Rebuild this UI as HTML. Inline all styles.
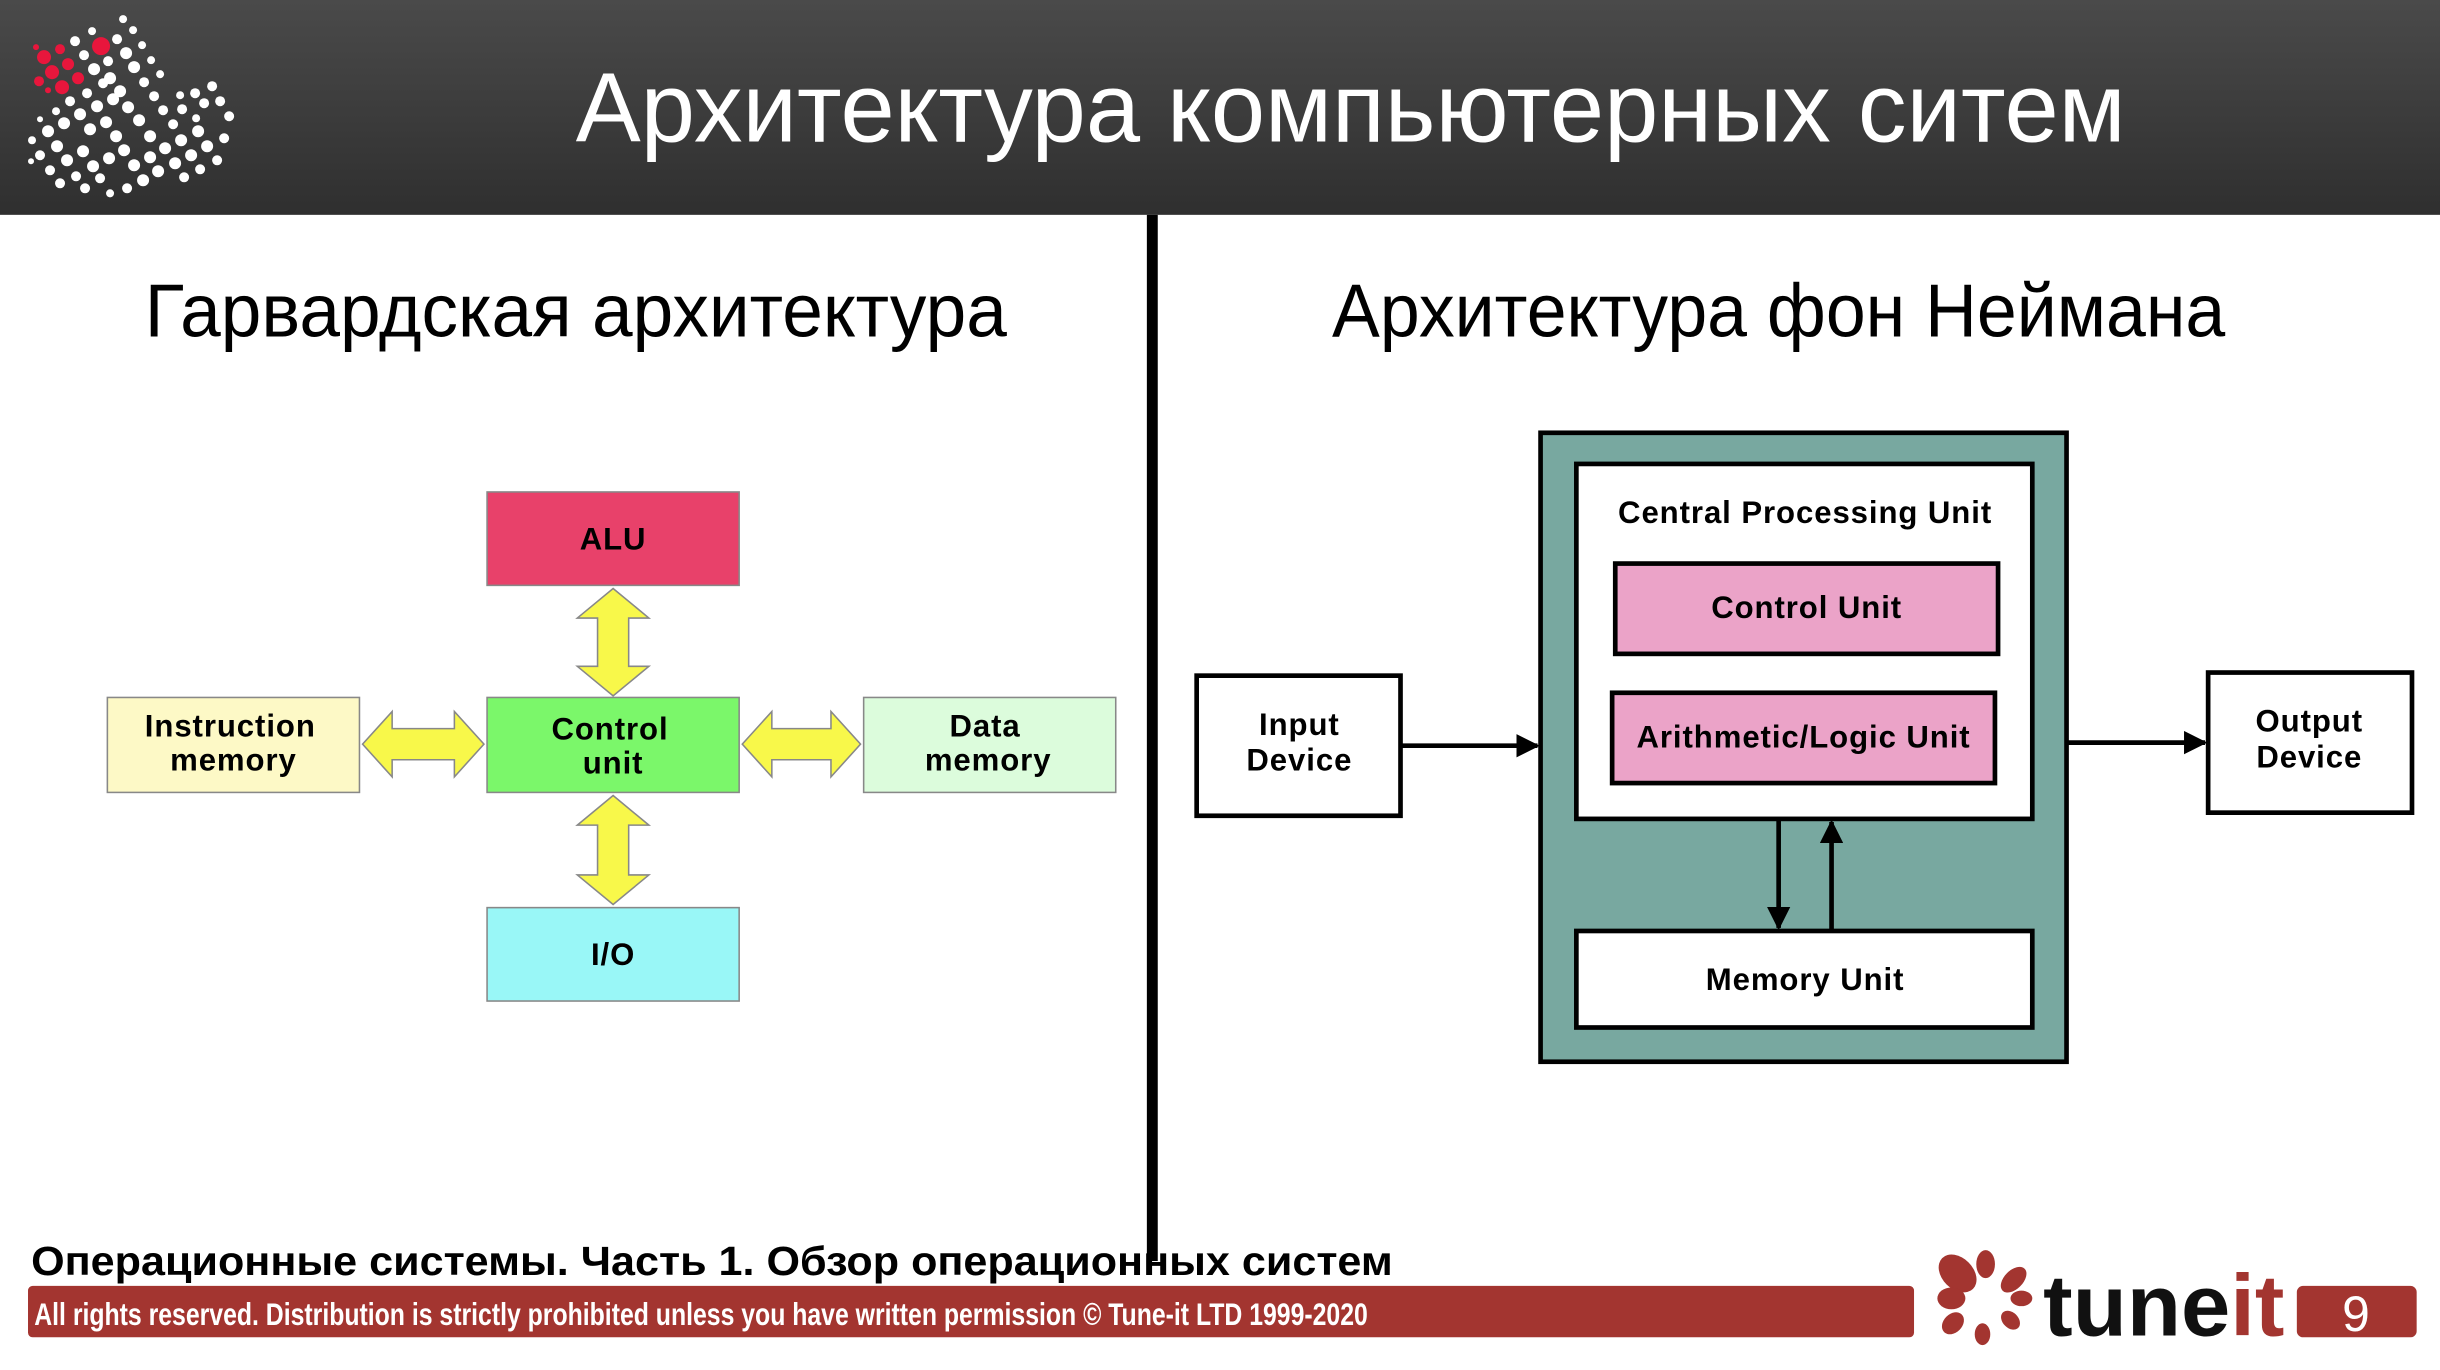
<!DOCTYPE html>
<html><head><meta charset="utf-8"><style>
html,body{margin:0;padding:0;background:#fff;}
svg{display:block;}
text{font-family:"Liberation Sans","DejaVu Sans",sans-serif;}
</style></head><body>
<svg width="2440" height="1370" viewBox="0 0 1568 880" preserveAspectRatio="none" xmlns="http://www.w3.org/2000/svg">
<defs>
<linearGradient id="hg" x1="0" y1="0" x2="0" y2="1"><stop offset="0" stop-color="#4a4a4a"/><stop offset="1" stop-color="#2f2f2f"/></linearGradient>
<marker id="ah" viewBox="0 0 10 10" refX="9" refY="5" markerWidth="5" markerHeight="5" orient="auto"><path d="M0,0L10,5L0,10z" fill="#000"/></marker>
</defs>
<rect x="0" y="0" width="1568" height="138" fill="url(#hg)"/>
<g transform="translate(0,2) scale(0.643)">
<g fill="#fff">
<circle cx="108" cy="58" r="5"/><circle cx="123" cy="16" r="4"/><circle cx="133" cy="27" r="4"/><circle cx="117" cy="36" r="5"/><circle cx="92" cy="28" r="4"/><circle cx="75" cy="38" r="5"/>
<circle cx="126" cy="50" r="6"/><circle cx="142" cy="42" r="4"/><circle cx="151" cy="57" r="4"/><circle cx="110" cy="75" r="6"/><circle cx="134" cy="64" r="6"/><circle cx="160" cy="71" r="4"/>
<circle cx="94" cy="66" r="6"/><circle cx="84" cy="52" r="5"/><circle cx="103" cy="80" r="5"/><circle cx="120" cy="88" r="6"/><circle cx="144" cy="79" r="5"/><circle cx="154" cy="93" r="5"/>
<circle cx="70" cy="98" r="5"/><circle cx="87" cy="90" r="5"/><circle cx="97" cy="103" r="6"/><circle cx="113" cy="96" r="6"/><circle cx="128" cy="104" r="6"/><circle cx="139" cy="117" r="6"/><circle cx="163" cy="107" r="5"/><circle cx="173" cy="121" r="5"/>
<circle cx="56" cy="108" r="4"/><circle cx="48" cy="128" r="6"/><circle cx="64" cy="120" r="6"/><circle cx="80" cy="111" r="6"/><circle cx="90" cy="126" r="6"/><circle cx="106" cy="119" r="6"/><circle cx="116" cy="133" r="6"/><circle cx="150" cy="133" r="6"/><circle cx="182" cy="106" r="5"/><circle cx="196" cy="115" r="4"/><circle cx="204" cy="100" r="5"/><circle cx="212" cy="83" r="5"/><circle cx="220" cy="98" r="5"/><circle cx="229" cy="113" r="5"/><circle cx="195" cy="90" r="5"/><circle cx="180" cy="92" r="4"/>
<circle cx="32" cy="137" r="4"/><circle cx="40" cy="152" r="5"/><circle cx="57" cy="143" r="6"/><circle cx="67" cy="157" r="6"/><circle cx="83" cy="148" r="6"/><circle cx="93" cy="163" r="6"/><circle cx="109" cy="155" r="6"/><circle cx="124" cy="147" r="6"/><circle cx="134" cy="162" r="6"/><circle cx="150" cy="154" r="6"/><circle cx="165" cy="145" r="6"/><circle cx="181" cy="137" r="6"/><circle cx="198" cy="128" r="6"/><circle cx="207" cy="143" r="6"/><circle cx="191" cy="152" r="6"/><circle cx="175" cy="160" r="6"/><circle cx="158" cy="168" r="6"/><circle cx="143" cy="177" r="6"/><circle cx="127" cy="185" r="5"/><circle cx="110" cy="190" r="4"/><circle cx="100" cy="175" r="5"/><circle cx="85" cy="185" r="5"/><circle cx="76" cy="173" r="5"/><circle cx="60" cy="180" r="5"/><circle cx="50" cy="167" r="5"/><circle cx="31" cy="158" r="3"/><circle cx="184" cy="174" r="5"/><circle cx="200" cy="166" r="5"/><circle cx="217" cy="157" r="5"/><circle cx="224" cy="135" r="5"/><circle cx="40" cy="116" r="3"/>
</g>
<g fill="#e8163c"><circle cx="101" cy="43" r="9"/><circle cx="44" cy="54" r="7"/><circle cx="68" cy="61" r="6"/><circle cx="52" cy="69" r="7"/><circle cx="78" cy="75" r="6"/><circle cx="39" cy="78" r="5"/><circle cx="62" cy="84" r="7"/><circle cx="36" cy="44" r="3"/><circle cx="60" cy="46" r="5"/><circle cx="48" cy="87" r="3"/></g>
</g>
<text x="370" y="91" font-size="63" fill="#fff" textLength="996" lengthAdjust="spacingAndGlyphs">Архитектура компьютерных ситем</text>
<rect x="737" y="138" width="7" height="672" fill="#000"/>
<text x="93" y="216" font-size="48" fill="#000" textLength="554" lengthAdjust="spacingAndGlyphs">Гарвардская архитектура</text>
<text x="856" y="216" font-size="48" fill="#000" textLength="574" lengthAdjust="spacingAndGlyphs">Архитектура фон Неймана</text>
<g stroke="#888" stroke-width="1">
<rect x="313" y="316" width="162" height="60" fill="#e8416a"/>
<rect x="313" y="448" width="162" height="61" fill="#7bf76a"/>
<rect x="313" y="583" width="162" height="60" fill="#99f7f7"/>
<rect x="69" y="448" width="162" height="61" fill="#fdf9c6"/>
<rect x="555" y="448" width="162" height="61" fill="#dcfcdc"/>
<g fill="#f8f84a">
<path d="M394,378 L417,397 L404,397 L404,428 L417,428 L394,447 L371,428 L384,428 L384,397 L371,397 Z"/>
<path d="M394,511 L417,530 L404,530 L404,562 L417,562 L394,581 L371,562 L384,562 L384,530 L371,530 Z"/>
<path d="M233,478 L252,457 L252,468 L292,468 L292,457 L311,478 L292,499 L292,488 L252,488 L252,499 Z"/>
<path d="M477,478 L496,457 L496,468 L534,468 L534,457 L553,478 L534,499 L534,488 L496,488 L496,499 Z"/>
</g></g>
<g font-weight="bold" font-size="20" letter-spacing="0.6" text-anchor="middle" fill="#000">
<text x="394" y="353">ALU</text>
<text x="392" y="475">Control</text><text x="394" y="497">unit</text>
<text x="394" y="620">I/O</text>
<text x="148" y="473">Instruction</text><text x="150" y="495">memory</text>
<text x="633" y="473">Data</text><text x="635" y="495">memory</text>
</g>
<rect x="990" y="278" width="338" height="404" fill="#78a8a0" stroke="#000" stroke-width="3"/>
<rect x="1013" y="298" width="293" height="228" fill="#fff" stroke="#000" stroke-width="3"/>
<rect x="1038" y="362" width="246" height="58" fill="#eba3c8" stroke="#000" stroke-width="3"/>
<rect x="1036" y="445" width="246" height="58" fill="#eba3c8" stroke="#000" stroke-width="3"/>
<rect x="1013" y="598" width="293" height="62" fill="#fff" stroke="#000" stroke-width="3"/>
<rect x="769" y="434" width="131" height="90" fill="#fff" stroke="#000" stroke-width="3"/>
<rect x="1419" y="432" width="131" height="90" fill="#fff" stroke="#000" stroke-width="3"/>
<g stroke="#000" stroke-width="3" fill="none" marker-end="url(#ah)">
<line x1="900" y1="479" x2="988" y2="479"/>
<line x1="1328" y1="477" x2="1417" y2="477"/>
<line x1="1143" y1="527" x2="1143" y2="596"/>
<line x1="1177" y1="597" x2="1177" y2="528"/>
</g>
<g font-weight="bold" font-size="20" letter-spacing="0.6" text-anchor="middle" fill="#000">
<text x="1160" y="336">Central Processing Unit</text>
<text x="1161" y="397">Control Unit</text>
<text x="1159" y="480">Arithmetic/Logic Unit</text>
<text x="1160" y="636">Memory Unit</text>
<text x="835" y="472">Input</text><text x="835" y="495">Device</text>
<text x="1484" y="470">Output</text><text x="1484" y="493">Device</text>
</g>
<text x="20" y="819" font-size="26" font-weight="bold" fill="#000" textLength="875" lengthAdjust="spacingAndGlyphs">Операционные системы. Часть 1. Обзор операционных систем</text>
<rect x="18" y="826" width="1212" height="33" rx="3" fill="#a33530"/>
<text x="22" y="851" font-size="20" font-weight="bold" fill="#fff" textLength="857" lengthAdjust="spacingAndGlyphs">All rights reserved. Distribution is strictly prohibited unless you have written permission © Tune-it LTD 1999-2020</text>
<g fill="#a33530">
<ellipse cx="1258" cy="818" rx="10" ry="14" transform="rotate(-45 1258 818)"/>
<ellipse cx="1276" cy="812" rx="6" ry="9"/>
<ellipse cx="1294" cy="822" rx="6" ry="10" transform="rotate(45 1294 822)"/>
<ellipse cx="1254" cy="834" rx="9" ry="7"/>
<ellipse cx="1299" cy="834" rx="7" ry="5"/>
<ellipse cx="1255" cy="850" rx="6" ry="8" transform="rotate(45 1255 850)"/>
<ellipse cx="1292" cy="848" rx="5" ry="7" transform="rotate(-45 1292 848)"/>
<ellipse cx="1274" cy="857" rx="5" ry="7"/>
</g>
<text x="1313" y="858" font-size="56" font-weight="bold" fill="#111" textLength="155" lengthAdjust="spacingAndGlyphs">tune<tspan fill="#a33530">it</tspan></text>
<rect x="1476" y="826" width="77" height="33" rx="4" fill="#a33530"/>
<text x="1514" y="855" font-size="32" fill="#fff" text-anchor="middle">9</text>
</svg>
</body></html>
